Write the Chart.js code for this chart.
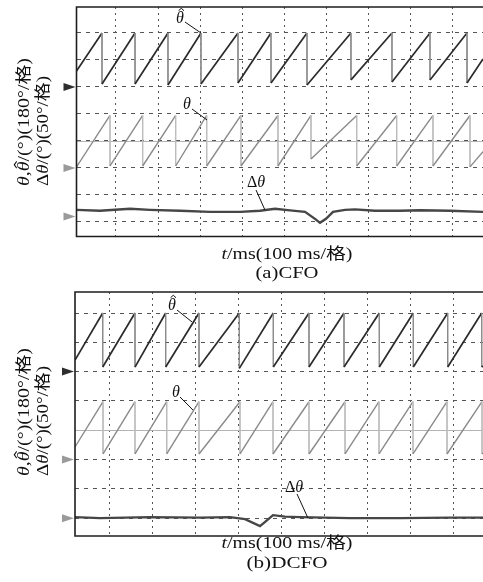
<!DOCTYPE html>
<html>
<head>
<meta charset="utf-8">
<script src="https://cdn.jsdelivr.net/npm/chart.js@4.4.0/dist/chart.umd.min.js"></script>
<style>
  html, body { margin: 0; padding: 0; background: #fff; overflow: hidden; }
  canvas { position: absolute; left: 0; }
  #cfo { top: 0; }
  #dcfo { top: 290px; }
</style>
</head>
<body>
<canvas id="cfo" width="483" height="290"></canvas>
<canvas id="dcfo" width="483" height="292"></canvas>
<script>
// ---------------- DONNEES (t en ms depuis le bord gauche, angles en degrés) ----------------

// (a) CFO - angle estimé (theta chapeau)
const cfoHatT = [0, 60.6, 60.6, 139.0, 139.0, 217.3, 217.3, 295.7, 295.7, 383.6, 383.6, 462.0, 462.0, 547.5, 547.5, 652.0, 652.0, 749.4, 749.4, 839.7, 839.7, 927.6, 927.6, 965.6];
const cfoHatV = [107, 360, 20, 360, 20, 360, 13, 360, 20, 360, 27, 360, 27, 360, 13, 360, 47, 360, 33, 360, 47, 360, 27, 187];
// (a) CFO - angle réel (theta)
const cfoThT = [0, 79.6, 79.6, 157.2, 157.2, 235.6, 235.6, 309.3, 309.3, 390.7, 390.7, 478.6, 478.6, 557.0, 557.0, 665.6, 665.6, 760.6, 760.6, 846.8, 846.8, 934.7, 934.7, 965.6];
const cfoThV = [7, 350, 13, 350, 13, 350, 13, 350, 13, 350, 13, 350, 13, 350, 60, 350, 13, 350, 13, 350, 13, 350, 7, 109];
// (a) CFO - erreur (delta theta)
const cfoDtT = [0, 55.8, 127.1, 174.6, 245.8, 317.1, 388.4, 435.9, 471.5, 507.1, 542.8, 566.5, 578.4, 592.6, 609.3, 637.8, 661.5, 709.0, 768.4, 815.9, 887.2, 965.6];
const cfoDtV = [12.4, 10.6, 14.3, 12.4, 10.6, 8.7, 8.7, 10.6, 14.3, 11.5, 8.7, -4.3, -11.7, -4.3, 8.7, 12.4, 13.3, 10.6, 10.6, 11.5, 10.6, 8.7];

// (b) DCFO - angle estimé
const dcfoHatT = [0, 64.3, 64.3, 139.2, 139.2, 210.4, 210.4, 287.7, 287.7, 381.2, 381.2, 460.1, 460.1, 542.9, 542.9, 624.1, 624.1, 706.0, 706.0, 784.9, 784.9, 864.7, 864.7, 943.6, 943.6, 946.6];
const dcfoHatV = [71, 360, 28, 360, 28, 360, 28, 360, 28, 360, 20, 360, 28, 360, 28, 360, 28, 360, 28, 360, 28, 360, 28, 360, 28, 35];
// (b) DCFO - angle réel
const dcfoThT = [0, 65.0, 65.0, 139.2, 139.2, 212.8, 212.8, 287.7, 287.7, 382.8, 382.8, 459.4, 459.4, 542.9, 542.9, 626.5, 626.5, 705.3, 705.3, 784.2, 784.2, 863.1, 863.1, 944.3, 944.3, 946.6];
const dcfoThV = [77, 355, 34, 355, 34, 355, 34, 355, 34, 355, 34, 355, 34, 355, 34, 355, 34, 355, 34, 355, 34, 355, 34, 355, 34, 40];
// (b) DCFO - erreur
const dcfoDtT = [0, 58, 174, 290, 359.6, 394.4, 429.2, 443.2, 459.4, 487.2, 522.0, 638.1, 754.1, 870.1, 946.6];
const dcfoDtV = [1.7, 0, 1.7, 0.9, 1.7, -1.7, -13.7, -5.1, 5.1, 2.6, 1.7, 0, 0, 0.9, 0.9];

// Echelles (°/division)
const perDivTheta = 180;
const perDivDelta = 50;

// Textes
const xTitle = [{ t: 't', i: true }, { t: '/ms(100 ms/格)' }];
const yTitle1 = [{ t: 'θ', i: true }, { t: ',' }, { t: 'θ', i: true, hat: true }, { t: '/(°)(180°/格)' }];
const yTitle2 = [{ t: 'Δ' }, { t: 'θ', i: true }, { t: '/(°)(50°/格)' }];

// ---------------- DESSIN ----------------
const SERIF = '"Liberation Serif", "Times New Roman", "Noto Sans CJK SC", serif';
const pts = (t, v) => t.map((x, k) => ({ x, y: v[k] }));

// texte à polices mélangées, centré sur (cx, cy) ; target = largeur voulue
function drawRich(ctx, parts, cx, cy, size, rot, target) {
    ctx.save();
    ctx.translate(cx, cy);
    if (rot) ctx.rotate(-Math.PI / 2);
    const fonts = parts.map(p => (p.i ? 'italic ' : '') + size + 'px ' + SERIF);
    let w = 0;
    const ws = parts.map((p, k) => { ctx.font = fonts[k]; const m = ctx.measureText(p.t).width; w += m; return m; });
    if (target) ctx.scale(target / w, 1);
    let x = -w / 2;
    ctx.fillStyle = '#111';
    ctx.strokeStyle = '#111';
    ctx.textBaseline = 'middle';
    ctx.textAlign = 'left';
    parts.forEach((p, k) => {
        ctx.font = fonts[k];
        ctx.fillText(p.t, x, 0);
        if (p.hat) {
            const hx = x + ws[k] / 2 + size * 0.08, hy = -size * 0.62;
            ctx.beginPath();
            ctx.moveTo(hx - size * 0.17, hy + size * 0.1);
            ctx.lineTo(hx, hy - size * 0.05);
            ctx.lineTo(hx + size * 0.17, hy + size * 0.1);
            ctx.lineWidth = 1;
            ctx.stroke();
        }
        x += ws[k];
    });
    ctx.restore();
}

function chanAxis(zero, perDiv, divTop, divBot) {
    return { type: 'linear', display: false, min: (zero - divBot) * perDiv, max: (zero - divTop) * perDiv };
}

function makePanel(id, d) {
    const ctx = document.getElementById(id);
    const vertical = c => c.p0.parsed.x === c.p1.parsed.x;

    const deco = {
        id: 'deco',
        beforeDatasetsDraw(chart) {
            const c = chart.ctx, a = chart.chartArea;
            const yc = chart.scales.yG.getPixelForValue(4);
            c.save();
            c.strokeStyle = '#b4b4b4';
            c.lineWidth = 1;
            c.beginPath();
            c.moveTo(a.left, Math.round(yc) + 0.5);
            c.lineTo(a.right, Math.round(yc) + 0.5);
            c.stroke();
            c.restore();
        },
        afterDraw(chart) {
            const c = chart.ctx, a = chart.chartArea, s = chart.scales;
            c.save();
            // cadre
            c.strokeStyle = '#1e1e1e';
            c.lineWidth = 1.6;
            c.beginPath();
            c.moveTo(a.right + 2, a.top);
            c.lineTo(a.left, a.top);
            c.lineTo(a.left, a.bottom);
            c.lineTo(a.right + 2, a.bottom);
            c.stroke();
            // repères de voie
            [['yH', '#2e2e2e'], ['yT', '#9a9a9a'], ['yD', '#9a9a9a']].forEach(([ax, col]) => {
                const y = s[ax].getPixelForValue(0);
                c.fillStyle = col;
                c.beginPath();
                c.moveTo(a.left - 13, y - 4);
                c.lineTo(a.left - 1, y);
                c.lineTo(a.left - 13, y + 4);
                c.closePath();
                c.fill();
            });
            // étiquettes avec ligne de rappel
            d.notes.forEach(n => {
                const ex = s.x.getPixelForValue(n.t), ey = s[n.ax].getPixelForValue(n.v);
                c.strokeStyle = '#111';
                c.lineWidth = 1;
                c.beginPath();
                c.moveTo(n.lx, n.ly);
                c.lineTo(ex, ey);
                c.stroke();
                drawRich(c, n.text, n.cx, n.cy, 16, false);
            });
            // titres
            drawRich(c, yTitle1, 25, d.yLab1, 16, true, 128);
            drawRich(c, yTitle2, 44, d.yLab2, 16, true, 110);
            drawRich(c, xTitle, 287, d.cap1, 16, false, 131);
            drawRich(c, [{ t: d.caption }], 287, d.cap2, 16, false, d.capW);
            c.restore();
        }
    };

    return new Chart(ctx, {
        type: 'line',
        data: {
            datasets: [
                {
                    data: pts(d.dtT, d.dtV), yAxisID: 'yD',
                    borderColor: '#464646', borderWidth: 2.4
                },
                {
                    data: pts(d.thT, d.thV), yAxisID: 'yT',
                    borderColor: '#8a8a8a', borderWidth: 1.4,
                    segment: { borderColor: c => vertical(c) ? '#bdbdbd' : undefined, borderWidth: c => vertical(c) ? 1 : undefined }
                },
                {
                    data: pts(d.hatT, d.hatV), yAxisID: 'yH',
                    borderColor: '#2a2a2a', borderWidth: 1.7,
                    segment: { borderColor: c => vertical(c) ? '#8c8c8c' : undefined, borderWidth: c => vertical(c) ? 1 : undefined }
                }
            ]
        },
        options: {
            responsive: false,
            animation: false,
            devicePixelRatio: 1,
            layout: { padding: d.pad },
            plugins: { legend: { display: false }, tooltip: { enabled: false } },
            elements: { point: { radius: 0 }, line: { tension: 0 } },
            scales: {
                x: {
                    type: 'linear', min: 0, max: d.tMax,
                    ticks: { display: false },
                    grid: { color: '#555', lineWidth: 1, drawTicks: false },
                    border: { display: false, dash: [2, 4] },
                    afterBuildTicks: sc => { sc.ticks = [0, 1, 2, 3, 4, 5, 6, 7, 8].map(k => ({ value: d.grid0 + 100 * k })); }
                },
                yG: {
                    type: 'linear', position: 'left', reverse: true, min: d.divTop, max: d.divBot,
                    ticks: { display: false },
                    grid: { color: '#555', lineWidth: 1, drawTicks: false },
                    border: { display: false, dash: [4, 5] },
                    afterBuildTicks: sc => { sc.ticks = [0, 1, 2, 3, 4, 5, 6, 7].map(v => ({ value: v })); }
                },
                yH: chanAxis(d.zeroH, perDivTheta, d.divTop, d.divBot),
                yT: chanAxis(d.zeroT, perDivTheta, d.divTop, d.divBot),
                yD: chanAxis(d.zeroD, perDivDelta, d.divTop, d.divBot)
            }
        },
        plugins: [deco]
    });
}

const hatTxt = [{ t: 'θ', i: true, hat: true }];
const thTxt = [{ t: 'θ', i: true }];
const dtTxt = [{ t: 'Δ' }, { t: 'θ', i: true }];

makePanel('cfo', {
    hatT: cfoHatT, hatV: cfoHatV, thT: cfoThT, thV: cfoThV, dtT: cfoDtT, dtV: cfoDtV,
    pad: { left: 76.5, top: 7, right: 0, bottom: 53.5 },
    tMax: 965.6, grid0: 93.8, divTop: -0.963, divBot: 7.54,
    zeroH: 2, zeroT: 5, zeroD: 6.8,
    notes: [
        { text: hatTxt, cx: 180, cy: 19, lx: 185, ly: 22, t: 295.7, v: 360, ax: 'yH' },
        { text: thTxt, cx: 187, cy: 105, lx: 192, ly: 109, t: 310, v: 320, ax: 'yT' },
        { text: dtTxt, cx: 256, cy: 183, lx: 256, ly: 190, t: 447.7, v: 12, ax: 'yD' }
    ],
    yLab1: 122, yLab2: 131, cap1: 254.5, cap2: 273.5, caption: '(a)CFO', capW: 63
});

makePanel('dcfo', {
    hatT: dcfoHatT, hatV: dcfoHatV, thT: dcfoThT, thV: dcfoThV, dtT: dcfoDtT, dtV: dcfoDtV,
    pad: { left: 75, top: 2, right: 0, bottom: 46 },
    tMax: 946.6, grid0: 78.9, divTop: -0.717, divBot: 7.61,
    zeroH: 2, zeroT: 5, zeroD: 7,
    notes: [
        { text: hatTxt, cx: 172, cy: 16, lx: 177, ly: 20, t: 271.5, v: 305, ax: 'yH' },
        { text: thTxt, cx: 176, cy: 103, lx: 180, ly: 107, t: 273.8, v: 304, ax: 'yT' },
        { text: dtTxt, cx: 294, cy: 198, lx: 297, ly: 204, t: 540.6, v: 0, ax: 'yD' }
    ],
    yLab1: 122, yLab2: 131, cap1: 254, cap2: 273.5, caption: '(b)DCFO', capW: 81
});
</script>
</body>
</html>
